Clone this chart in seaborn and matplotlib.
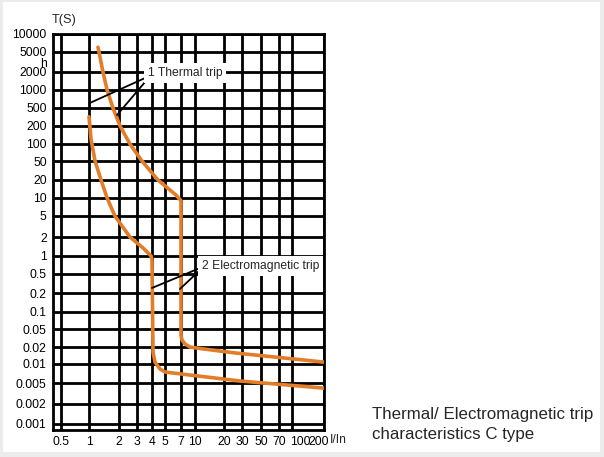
import numpy as np
import pandas as pd
import matplotlib
matplotlib.use("Agg")
import matplotlib.pyplot as plt
import seaborn as sns
from matplotlib.transforms import ScaledTranslation
from matplotlib.patches import Rectangle

# ---------------- data ----------------
x_ticks = [0.5, 1, 2, 3, 4, 5, 7, 10, 20, 30, 50, 70, 100, 200]
x_tick_labels = ["0.5", "1", "2", "3", "4", "5", "7", "10", "20", "30", "50", "70", "100", "200"]
y_ticks = [0.001, 0.002, 0.005, 0.01, 0.02, 0.05, 0.1, 0.2, 0.5, 1, 2, 5, 10, 20, 50,
           100, 200, 500, 1000, 2000, 5000, 10000]
y_tick_labels = ["0.001", "0.002", "0.005", "0.01", "0.02", "0.05", "0.1", "0.2", "0.5", "1",
                 "2", "5", "10", "20", "50", "100", "200", "500", "1000", "2000", "5000", "10000"]
hour_tick = [3100]
hour_label = ["h"]

# lower boundary curve (I/In, seconds)
left_I = [1.0, 1.05, 1.07, 1.15, 1.32, 1.52, 1.82, 2.56, 3.37, 3.93, 4.0, 4.07, 4.21, 4.59, 5.0, 5.92, 28.7, 200]
left_T = [320, 117, 100, 50, 20, 10, 5, 2, 1.34, 1.0, 0.85, 0.0163, 0.0108, 0.00833, 0.00747, 0.0072, 0.00538, 0.0040]

# upper boundary curve (I/In, seconds)
right_I = [1.23, 1.26, 1.38, 1.52, 1.74, 2.05, 2.56, 3.30, 4.43, 5.55, 6.3, 7.0, 7.0, 7.18, 7.75, 8.8, 11.3, 25.6, 200]
right_T = [6000, 5000, 2000, 1000, 500, 200, 100, 50, 20, 13.6, 11.2, 9.0, 0.0368, 0.0286, 0.0233, 0.020, 0.0188, 0.0157, 0.0108]

# ---------------- layout: the hand-drawn paper grid (pixel positions) ----------------
x_grid_px = [61, 89, 119, 137, 152, 165, 181, 195, 224, 242, 261, 279, 292, 324]
y_grid_px = [424, 404, 383, 364, 347, 329, 312, 293, 274, 256, 237, 216, 198, 180, 161,
             144, 126, 108, 90, 72, 52, 34]
AX_L, AX_R, AX_T, AX_B = 53, 324, 34, 430
W, H = 604, 457


def paper_scale(ticks, pos):
    lt = np.log10(np.asarray(ticks, float))
    p = np.asarray(pos, float)
    s0 = (p[1] - p[0]) / (lt[1] - lt[0])
    s1 = (p[-1] - p[-2]) / (lt[-1] - lt[-2])

    def fwd(v):
        v = np.asarray(v, float)
        l = np.log10(np.where(v > 0, v, 1e-300))
        out = np.interp(l, lt, p)
        out = np.where(l < lt[0], p[0] + (l - lt[0]) * s0, out)
        out = np.where(l > lt[-1], p[-1] + (l - lt[-1]) * s1, out)
        return out

    def inv(q):
        q = np.asarray(q, float)
        l = np.interp(q, p, lt)
        l = np.where(q < p[0], lt[0] + (q - p[0]) / s0, l)
        l = np.where(q > p[-1], lt[-1] + (q - p[-1]) / s1, l)
        return 10.0 ** l

    return fwd, inv


xf, xi = paper_scale(x_ticks, x_grid_px)
yf, yi = paper_scale(y_ticks, [AX_B - v for v in y_grid_px])

sns.set_theme(style="white")
plt.rcParams["font.family"] = ["Liberation Sans", "DejaVu Sans"]

fig = plt.figure(figsize=(W / 100, H / 100), dpi=100)
fig.patch.set_facecolor("#ececec")
fig.add_artist(Rectangle((3 / W, 5 / H), 597 / W, 450 / H, transform=fig.transFigure,
                         facecolor="white", edgecolor="none", zorder=-10))

ax = fig.add_axes([AX_L / W, 1 - AX_B / H, (AX_R - AX_L) / W, (AX_B - AX_T) / H])
ax.set_facecolor("white")
ax.set_xscale("function", functions=(xf, xi))
ax.set_yscale("function", functions=(yf, yi))

df = pd.concat([
    pd.DataFrame({"I": left_I, "T": left_T, "curve": "lower"}),
    pd.DataFrame({"I": right_I, "T": right_T, "curve": "upper"}),
], ignore_index=True)

orange = "#E27D2A"
sns.lineplot(data=df, x="I", y="T", hue="curve", palette=[orange, orange],
             sort=False, estimator=None, legend=False, linewidth=2.6, ax=ax, zorder=3)

ax.set_xlim(float(xi(AX_L)), 200)
ax.set_ylim(float(yi(0)), 10000)

ax.set_xticks(x_ticks, labels=x_tick_labels)
ax.set_yticks(y_ticks, labels=y_tick_labels)
ax.set_yticks(hour_tick, labels=hour_label, minor=True)
ax.set_xlabel("")
ax.set_ylabel("")
ax.grid(True, which="major", color="black", linewidth=2.0)
ax.grid(False, which="minor")
ax.set_axisbelow(True)
ax.tick_params(axis="both", which="both", length=0, labelsize=8.7, colors="black")
ax.tick_params(axis="x", pad=4)
ax.tick_params(axis="y", which="both", pad=4.5)
for s in ax.spines.values():
    s.set_visible(True)
    s.set_color("black")
    s.set_linewidth(2.0)

# shift a couple of x labels like on the printed chart
labs = ax.get_xticklabels()
labs[-2].set_transform(labs[-2].get_transform() + ScaledTranslation(0.08, 0, fig.dpi_scale_trans))
labs[-1].set_transform(labs[-1].get_transform() + ScaledTranslation(-0.05, 0, fig.dpi_scale_trans))

# annotations
fs = 8.7
leader = dict(arrowstyle="-", color="black", lw=1.3, shrinkA=0, shrinkB=0)
ax.annotate("", xy=(1.02, 607), xytext=(3.5, 1585), arrowprops=leader, zorder=4)
ax.annotate("", xy=(1.91, 350), xytext=(3.5, 1360), arrowprops=leader, zorder=4)
ax.annotate("1 Thermal trip", xy=(3.7, 1920), ha="left", va="center", fontsize=fs,
            bbox=dict(boxstyle="square,pad=0.3", fc="white", ec="none"), zorder=5)

ax.annotate("", xy=(4.0, 0.255), xytext=(11.3, 0.63), arrowprops=leader, zorder=4)
ax.annotate("", xy=(6.85, 0.243), xytext=(11.3, 0.583), arrowprops=leader, zorder=4)
ax.annotate("2 Electromagnetic trip", xy=(11.8, 0.68), ha="left", va="center", fontsize=fs,
            bbox=dict(boxstyle="square,pad=0.3", fc="white", ec="none"), zorder=5)

fig.text(52 / W, 1 - 20 / H, "T(S)", ha="left", va="center", fontsize=9.2)
fig.text(329.5 / W, 1 - 440 / H, "I/In", ha="left", va="center", fontsize=fs)
fig.text(372 / W, 1 - 414 / H, "Thermal/ Electromagnetic trip", ha="left", va="center", fontsize=12.2)
fig.text(372 / W, 1 - 435 / H, "characteristics C type", ha="left", va="center", fontsize=12.2)

fig.savefig("out.png", dpi=100)
